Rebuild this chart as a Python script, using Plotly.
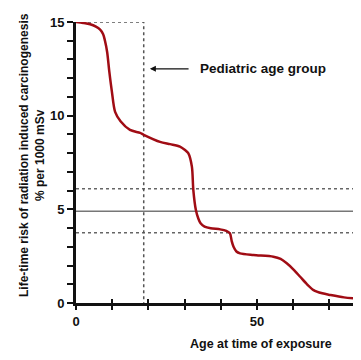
import plotly.graph_objects as go

# Curve: life-time risk (% per 1000 mSv) vs age at time of exposure
age = [0, 2, 3.9, 5.5, 6.6, 7.5, 8, 8.6, 9.2, 9.9, 10.8, 12.3, 14.9, 17.7, 18.7,
       23.2, 26, 28.7, 30.2, 31, 32, 32.4, 33.1, 33.8, 34.4, 35.5, 37.2, 39.8,
       41.5, 42.5, 43, 43.5, 44.3, 45.3, 49, 54.5, 56.5, 58.2, 60, 61.9, 63.8,
       65.6, 68, 70.2, 74, 78.5]
risk = [15, 14.95, 14.88, 14.75, 14.6, 14.35, 14.0, 13.4, 12.35, 11.3, 10.2, 9.7,
        9.24, 9.08, 8.98, 8.6, 8.48, 8.35, 8.15, 8.0, 7.28, 6.03, 4.97, 4.5, 4.26,
        4.08, 3.99, 3.93, 3.85, 3.72, 3.3, 3.0, 2.75, 2.65, 2.56, 2.47, 2.35, 2.12,
        1.8, 1.4, 1.0, 0.69, 0.52, 0.43, 0.3, 0.22]

pediatric_limit = 18.7
upper_level = 6.1
mid_level = 4.9
lower_level = 3.75

x_ticks = [0, 10, 20, 30, 40, 50, 60, 70]
x_labels = ["0", "", "", "", "", "50", "", ""]
y_ticks = list(range(0, 16))
y_labels = [str(v) if v % 5 == 0 else "" for v in y_ticks]

x_max = 78.7
font = "Liberation Sans, Arial, sans-serif"

fig = go.Figure()

# reference lines
fig.add_trace(go.Scatter(x=[0, x_max], y=[upper_level, upper_level], mode="lines",
                         line=dict(color="#666", width=1.5, dash="dot"),
                         hoverinfo="skip", showlegend=False))
fig.add_trace(go.Scatter(x=[0, x_max], y=[mid_level, mid_level], mode="lines",
                         line=dict(color="#777", width=1.5),
                         hoverinfo="skip", showlegend=False))
fig.add_trace(go.Scatter(x=[0, x_max], y=[lower_level, lower_level], mode="lines",
                         line=dict(color="#666", width=1.5, dash="dot"),
                         hoverinfo="skip", showlegend=False))
# pediatric box
fig.add_trace(go.Scatter(x=[0, pediatric_limit, pediatric_limit], y=[15, 15, 0], mode="lines",
                         line=dict(color="#555", width=1.5, dash="dot"),
                         hoverinfo="skip", showlegend=False))
# curve
fig.add_trace(go.Scatter(x=age, y=risk, mode="lines",
                         line=dict(color="#a00c14", width=2.5, shape="spline", smoothing=0.8),
                         showlegend=False))
# invisible trace for the inner tick axis
fig.add_trace(go.Scatter(x=[0], y=[0], xaxis="x2", mode="markers",
                         marker=dict(opacity=0), hoverinfo="skip", showlegend=False))

fig.update_layout(
    width=353, height=352,
    margin=dict(l=68, r=0, t=14, b=57),
    paper_bgcolor="white", plot_bgcolor="white",
    font=dict(family=font, color="#000"),
    xaxis=dict(range=[0, x_max], tickvals=x_ticks, ticktext=x_labels,
               ticks="outside", ticklen=4, tickwidth=1.5, tickcolor="#111",
               showline=True, linewidth=3, linecolor="#111",
               showgrid=False, zeroline=False,
               tickfont=dict(size=13, weight="bold", color="#111")),
    xaxis2=dict(overlaying="x", matches="x", side="bottom", tickvals=x_ticks,
                ticks="inside", ticklen=4, tickwidth=1.5, tickcolor="#111",
                showticklabels=False, showline=False, showgrid=False, zeroline=False),
    yaxis=dict(range=[0, 15], tickvals=y_ticks, ticktext=y_labels,
               ticks="outside", ticklen=6, tickwidth=1.5, tickcolor="#111",
               showline=True, linewidth=3, linecolor="#111",
               showgrid=False, zeroline=False,
               tickfont=dict(size=13, weight="bold", color="#111")),
    annotations=[
        dict(x=20.4, y=12.5, ax=31.5, ay=12.5, axref="x", ayref="y", xref="x", yref="y",
             text="", showarrow=True, arrowhead=2, arrowsize=1, arrowwidth=1.2,
             arrowcolor="#111"),
        dict(x=33.7, y=12.5, xref="x", yref="y", text="<b>Pediatric age group</b>",
             showarrow=False, xanchor="left", yanchor="middle",
             font=dict(size=13.5, color="#111")),
        dict(x=51.1, y=0, xref="x", yref="paper", text="<b>Age at time of exposure</b>",
             showarrow=False, xanchor="center", yanchor="middle", yshift=-41,
             font=dict(size=12.5, color="#111")),
        dict(x=0, y=7.9, xref="paper", yref="y",
             text="<b>Life-time risk of radiation induced carcinogenesis</b><br><b>% per 1000 mSv</b>",
             showarrow=False, textangle=-90, xanchor="center", yanchor="middle",
             xshift=-44, font=dict(size=12, color="#111")),
    ],
)

fig.write_html("out.html")
